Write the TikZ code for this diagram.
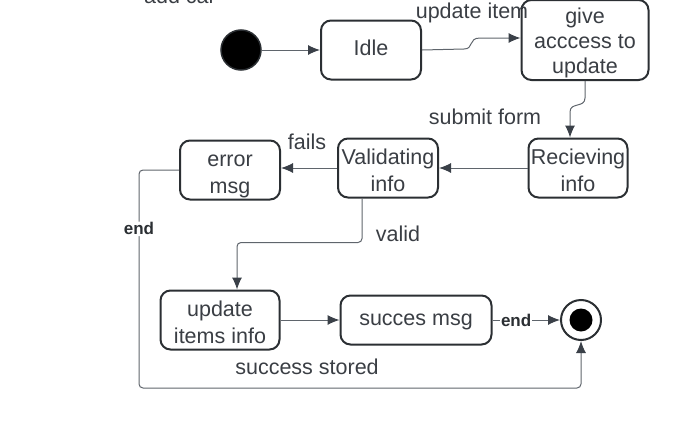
\documentclass[tikz,border=0pt]{standalone}
\usepackage{fontspec}
\setmainfont{Liberation Sans}
\usetikzlibrary{arrows.meta,positioning}
\definecolor{boxclr}{HTML}{2B2F33}
\definecolor{lineclr}{HTML}{5F656C}
\definecolor{tipclr}{HTML}{3A4048}
\definecolor{txtclr}{HTML}{3A3E44}

\begin{document}
\begin{tikzpicture}[x=1pt, y=-1pt]
		\tikzstyle{State}	= [rectangle, rounded corners=10pt, draw=boxclr, line width=2pt, fill=white, align=center, inner sep=1pt, text=txtclr, font=\fontsize{21.5}{27}\selectfont, text height=15pt, text depth=4pt]
		\tikzstyle{TwoLine}	= [text height=48pt, text depth=2pt]
		\tikzstyle{ThreeLine}	= [font=\fontsize{21.5}{25}\selectfont, text height=70pt, text depth=4pt]
		\tikzstyle{Pseudo}	= [circle, draw=boxclr, minimum size=40pt, inner sep=0pt]
		\tikzstyle{Trans}	= [draw=lineclr, line width=1pt, -{Latex[length=12pt, width=10pt, color=tipclr]}]
		\tikzstyle{Lbl}		= [text=txtclr, inner sep=0pt, font=\fontsize{21.5}{26}\selectfont]
		\tikzstyle{EndLbl}	= [text=boxclr, fill=white, inner sep=1pt, font=\bfseries\fontsize{17}{20}\selectfont]

		\useasboundingbox (0,0) rectangle (688,431);

		\node (addcar) at (180,4) [Lbl, anchor=base] {add car};

		\node (init) at (241,50) [Pseudo, fill=black, line width=1.5pt] {};
		\node (idle) at (371,50) [State, minimum width=100pt, minimum height=59pt] {Idle};
		\node (give) at (585,40) [State, ThreeLine, minimum width=127pt, minimum height=80pt] {give\\acccess to\\update};
		\node (reciev) at (578,168) [State, TwoLine, minimum width=99pt, minimum height=59pt] {Recieving\\info};
		\node (valid) at (388,168) [State, TwoLine, minimum width=100pt, minimum height=59pt] {Validating\\info};
		\node (error) at (230,170) [State, TwoLine, minimum width=100pt, minimum height=59pt] {error\\msg};
		\node (update) at (220,320) [State, TwoLine, minimum width=119pt, minimum height=59pt] {update\\items info};
		\node (succ) at (416,320) [State, minimum width=151pt, minimum height=49pt] {succes msg};
		\node (fin) at (581,320) [Pseudo, line width=2pt] {};
		\node (findot) at (fin) [circle, fill=black, minimum size=23pt, inner sep=0pt] {};

		\draw [Trans] (init) -- (idle);
		\draw [Trans] (idle.east) -- (464,49) .. controls (474,49) and (468,38) .. (480,38) -- ([yshift=2pt]give.west)
			node [Lbl] at (472,13) {update item};
		\draw [Trans] (give.south) -- (585,98) .. controls (585,108) and (570,102) .. (570,112) -- ([xshift=-8pt]reciev.north)
			node [Lbl] at (485,117) {submit form};
		\draw [Trans] (reciev.west) -- (valid.east);
		\draw [Trans] (valid.west) -- (valid.west -| error.east)
			node [Lbl] at (307,142) {fails};
		\draw [Trans, rounded corners=4pt] ([xshift=-26pt]valid.south) -- ++(0,44) -| ([xshift=17pt]update.north)
			node [Lbl] at (398,234) {valid};
		\draw [Trans] (update.east) -- (update.east -| succ.west)
			node [Lbl] at (307,367) {success stored};
		\draw [Trans] (succ.east) -- node [EndLbl, pos=0.35] {end} (fin.west);
		\draw [Trans, rounded corners=4pt] (error.west) -- (139,170) -- node [EndLbl, pos=0.27] {end} (139,388) -| (fin.south);
	\end{tikzpicture}
\end{document}
